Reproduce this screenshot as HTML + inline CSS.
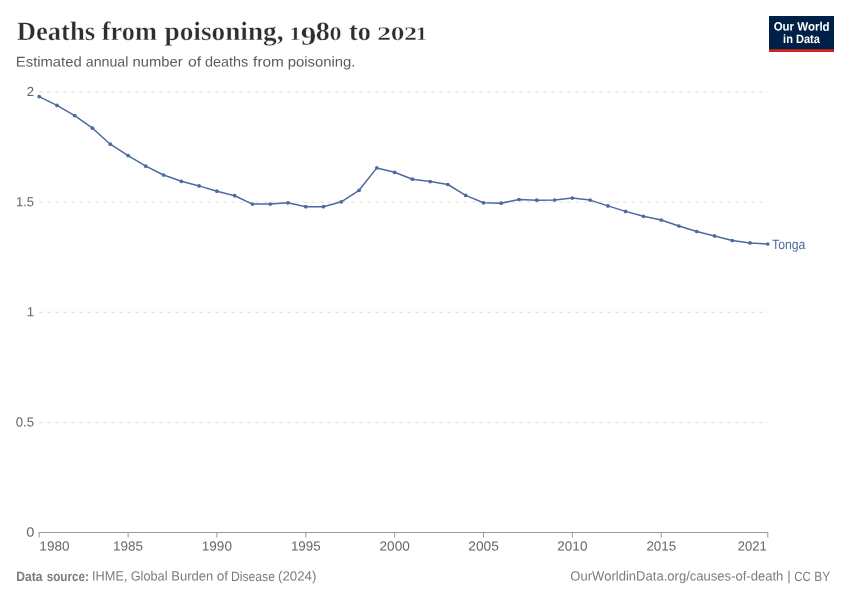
<!DOCTYPE html>
<html lang="en"><head><meta charset="utf-8"><title>Deaths from poisoning, 1980 to 2021</title>
<style>
html,body{margin:0;padding:0;background:#fff;}
svg{display:block;text-rendering:geometricPrecision;}
text.n{font-family:"Liberation Sans",sans-serif;}
text.s{font-family:"Liberation Serif",serif;stroke:#fff;stroke-width:.35px;}
.grid line{stroke:#ddd;stroke-width:1;stroke-dasharray:4,4;}
.ticks line{stroke:#999;stroke-width:1;}
</style></head><body>
<svg width="850" height="600" viewBox="0 0 850 600">
<rect width="850" height="600" fill="#fff"/>
<rect x="769" y="16" width="65" height="36" fill="#002147"/><rect x="769" y="49.2" width="65" height="2.8" fill="#ce261e"/>
<g class="grid"><line x1="39.2" x2="768" y1="92.0" y2="92.0"/><line x1="39.2" x2="768" y1="202.1" y2="202.1"/><line x1="39.2" x2="768" y1="312.25" y2="312.25"/><line x1="39.2" x2="768" y1="422.4" y2="422.4"/></g>
<line x1="38.7" x2="768.3" y1="532.5" y2="532.5" stroke="#999" stroke-width="1"/>
<g class="ticks"><line x1="39.2" x2="39.2" y1="532.5" y2="537.5"/><line x1="128.1" x2="128.1" y1="532.5" y2="537.5"/><line x1="216.9" x2="216.9" y1="532.5" y2="537.5"/><line x1="305.8" x2="305.8" y1="532.5" y2="537.5"/><line x1="394.6" x2="394.6" y1="532.5" y2="537.5"/><line x1="483.5" x2="483.5" y1="532.5" y2="537.5"/><line x1="572.3" x2="572.3" y1="532.5" y2="537.5"/><line x1="661.2" x2="661.2" y1="532.5" y2="537.5"/><line x1="767.8" x2="767.8" y1="532.5" y2="537.5"/></g>
<polyline points="39.2,96.6 57.0,105.4 74.7,115.6 92.5,128.2 110.3,144.2 128.1,155.6 145.8,166.2 163.6,175.0 181.4,181.3 199.1,185.9 216.9,191.2 234.7,195.7 252.4,204.1 270.2,204.1 288.0,202.8 305.8,206.7 323.5,206.7 341.3,201.8 359.1,190.3 376.8,167.9 394.6,172.3 412.4,179.2 430.2,181.6 447.9,184.5 465.7,195.4 483.5,202.8 501.2,203.2 519.0,199.5 536.8,200.2 554.6,200.0 572.3,198.1 590.1,200.1 607.9,205.9 625.6,211.4 643.4,216.3 661.2,220.0 678.9,226.0 696.7,231.5 714.5,235.9 732.3,240.5 750.0,242.9 767.8,244.0" fill="none" stroke="#4c6a9c" stroke-width="1.5" stroke-linejoin="round" stroke-linecap="round"/>
<g fill="#4c6a9c"><circle cx="39.2" cy="96.6" r="1.85"/><circle cx="57.0" cy="105.4" r="1.85"/><circle cx="74.7" cy="115.6" r="1.85"/><circle cx="92.5" cy="128.2" r="1.85"/><circle cx="110.3" cy="144.2" r="1.85"/><circle cx="128.1" cy="155.6" r="1.85"/><circle cx="145.8" cy="166.2" r="1.85"/><circle cx="163.6" cy="175.0" r="1.85"/><circle cx="181.4" cy="181.3" r="1.85"/><circle cx="199.1" cy="185.9" r="1.85"/><circle cx="216.9" cy="191.2" r="1.85"/><circle cx="234.7" cy="195.7" r="1.85"/><circle cx="252.4" cy="204.1" r="1.85"/><circle cx="270.2" cy="204.1" r="1.85"/><circle cx="288.0" cy="202.8" r="1.85"/><circle cx="305.8" cy="206.7" r="1.85"/><circle cx="323.5" cy="206.7" r="1.85"/><circle cx="341.3" cy="201.8" r="1.85"/><circle cx="359.1" cy="190.3" r="1.85"/><circle cx="376.8" cy="167.9" r="1.85"/><circle cx="394.6" cy="172.3" r="1.85"/><circle cx="412.4" cy="179.2" r="1.85"/><circle cx="430.2" cy="181.6" r="1.85"/><circle cx="447.9" cy="184.5" r="1.85"/><circle cx="465.7" cy="195.4" r="1.85"/><circle cx="483.5" cy="202.8" r="1.85"/><circle cx="501.2" cy="203.2" r="1.85"/><circle cx="519.0" cy="199.5" r="1.85"/><circle cx="536.8" cy="200.2" r="1.85"/><circle cx="554.6" cy="200.0" r="1.85"/><circle cx="572.3" cy="198.1" r="1.85"/><circle cx="590.1" cy="200.1" r="1.85"/><circle cx="607.9" cy="205.9" r="1.85"/><circle cx="625.6" cy="211.4" r="1.85"/><circle cx="643.4" cy="216.3" r="1.85"/><circle cx="661.2" cy="220.0" r="1.85"/><circle cx="678.9" cy="226.0" r="1.85"/><circle cx="696.7" cy="231.5" r="1.85"/><circle cx="714.5" cy="235.9" r="1.85"/><circle cx="732.3" cy="240.5" r="1.85"/><circle cx="750.0" cy="242.9" r="1.85"/><circle cx="767.8" cy="244.0" r="1.85"/></g>
<text transform="translate(16.68,39.90) rotate(.03) scale(1.0047,1)" font-size="26.5" fill="#2e2e2e" font-weight="bold" class="s">Deaths</text>
<text transform="translate(101.80,39.90) rotate(.03) scale(0.9945,1)" font-size="26.5" fill="#2e2e2e" font-weight="bold" class="s">from</text>
<text transform="translate(164.50,39.90) rotate(.03) scale(1.0296,1)" font-size="26.5" fill="#2e2e2e" font-weight="bold" class="s">poisoning,</text>
<text transform="translate(289.53,39.90) rotate(.03) scale(1.1684,1)" font-size="19.4" fill="#2e2e2e" font-weight="bold" class="s">1</text><text transform="translate(300.71,44.80) rotate(.03) scale(1.1742,1)" font-size="26.5" fill="#2e2e2e" font-weight="bold" class="s">9</text><text transform="translate(315.82,39.90) rotate(.03) scale(1.0609,1)" font-size="26.5" fill="#2e2e2e" font-weight="bold" class="s">8</text><text transform="translate(329.54,39.90) rotate(.03) scale(1.2489,1)" font-size="19.4" fill="#2e2e2e" font-weight="bold" class="s">0</text>
<text transform="translate(348.89,39.90) rotate(.03) scale(0.9936,1)" font-size="26.5" fill="#2e2e2e" font-weight="bold" class="s">to</text>
<text transform="translate(377.01,39.90) rotate(.03) scale(1.4610,1)" font-size="19.4" fill="#2e2e2e" font-weight="bold" class="s">2</text><text transform="translate(390.64,39.90) rotate(.03) scale(1.4138,1)" font-size="19.4" fill="#2e2e2e" font-weight="bold" class="s">0</text><text transform="translate(403.99,39.90) rotate(.03) scale(1.3432,1)" font-size="19.4" fill="#2e2e2e" font-weight="bold" class="s">2</text><text transform="translate(415.83,39.90) rotate(.03) scale(1.1684,1)" font-size="19.4" fill="#2e2e2e" font-weight="bold" class="s">1</text>
<text transform="translate(15.84,66.40) rotate(.03) scale(1.0510,1)" font-size="14.1" fill="#5b5b5b" class="n">Estimated</text>
<text transform="translate(85.76,66.40) rotate(.03) scale(1.0080,1)" font-size="14.1" fill="#5b5b5b" class="n">annual</text>
<text transform="translate(132.58,66.40) rotate(.03) scale(1.0479,1)" font-size="14.1" fill="#5b5b5b" class="n">number</text>
<text transform="translate(188.01,66.40) rotate(.03) scale(1.1173,1)" font-size="14.1" fill="#5b5b5b" class="n">of</text>
<text transform="translate(204.95,66.40) rotate(.03) scale(1.0228,1)" font-size="14.1" fill="#5b5b5b" class="n">deaths</text>
<text transform="translate(253.10,66.40) rotate(.03) scale(1.0921,1)" font-size="14.1" fill="#5b5b5b" class="n">from</text>
<text transform="translate(287.67,66.40) rotate(.03) scale(1.0543,1)" font-size="14.1" fill="#5b5b5b" class="n">poisoning.</text>
<text transform="translate(773.64,30.60) rotate(.03) scale(0.9502,1)" font-size="12.1" fill="#fff" font-weight="bold" class="n">Our World</text>
<text transform="translate(783.11,42.50) rotate(.03) scale(0.9102,1)" font-size="12.1" fill="#fff" font-weight="bold" class="n">in Data</text>
<text transform="translate(26.69,96.10) rotate(.03) scale(1.0000,1)" font-size="13.2" fill="#666" class="n">2</text>
<text transform="translate(15.99,206.20) rotate(.03) scale(0.9829,1)" font-size="13.2" fill="#666" class="n">1.5</text>
<text transform="translate(26.69,316.15) rotate(.03) scale(1.0000,1)" font-size="13.2" fill="#666" class="n">1</text>
<text transform="translate(15.69,426.50) rotate(.03) scale(0.9999,1)" font-size="13.2" fill="#666" class="n">0.5</text>
<text transform="translate(26.34,536.40) rotate(.03) scale(1.1061,1)" font-size="13.2" fill="#666" class="n">0</text>
<text transform="translate(39.35,550.50) rotate(.03) scale(1.0280,1)" font-size="13.2" fill="#666" class="n">1980</text>
<text transform="translate(113.11,550.50) rotate(.03) scale(1.0213,1)" font-size="13.2" fill="#666" class="n">1985</text>
<text transform="translate(201.76,550.50) rotate(.03) scale(1.0280,1)" font-size="13.2" fill="#666" class="n">1990</text>
<text transform="translate(290.92,550.50) rotate(.03) scale(1.0141,1)" font-size="13.2" fill="#666" class="n">1995</text>
<text transform="translate(379.47,550.50) rotate(.03) scale(1.0346,1)" font-size="13.2" fill="#666" class="n">2000</text>
<text transform="translate(468.32,550.50) rotate(.03) scale(1.0421,1)" font-size="13.2" fill="#666" class="n">2005</text>
<text transform="translate(557.29,550.50) rotate(.03) scale(1.0275,1)" font-size="13.2" fill="#666" class="n">2010</text>
<text transform="translate(646.40,550.50) rotate(.03) scale(1.0173,1)" font-size="13.2" fill="#666" class="n">2015</text>
<text transform="translate(737.69,550.50) rotate(.03) scale(0.9890,1)" font-size="13.2" fill="#666" class="n">2021</text>
<text transform="translate(772.11,248.50) rotate(.03) scale(0.9057,1)" font-size="13.5" fill="#4c6a9c" class="n">Tonga</text>
<text transform="translate(16.24,580.50) rotate(.03) scale(0.9152,1)" font-size="13.3" fill="#7c7c7c" font-weight="bold" class="n">Data</text>
<text transform="translate(46.63,580.50) rotate(.03) scale(0.8791,1)" font-size="13.3" fill="#7c7c7c" font-weight="bold" class="n">source:</text>
<text transform="translate(92.00,580.50) rotate(.03) scale(0.9595,1)" font-size="13.3" fill="#7c7c7c" class="n">IHME,</text>
<text transform="translate(130.70,580.50) rotate(.03) scale(0.9582,1)" font-size="13.3" fill="#7c7c7c" class="n">Global</text>
<text transform="translate(171.28,580.50) rotate(.03) scale(0.9781,1)" font-size="13.3" fill="#7c7c7c" class="n">Burden</text>
<text transform="translate(216.77,580.50) rotate(.03) scale(1.0259,1)" font-size="13.3" fill="#7c7c7c" class="n">of</text>
<text transform="translate(231.05,580.50) rotate(.03) scale(0.9124,1)" font-size="13.3" fill="#7c7c7c" class="n">Disease</text>
<text transform="translate(277.98,580.50) rotate(.03) scale(0.9991,1)" font-size="13.3" fill="#7c7c7c" class="n">(2024)</text>
<text transform="translate(570.29,580.50) rotate(.03) scale(0.9818,1)" font-size="13.3" fill="#7c7c7c" class="n">OurWorldinData.org/causes-of-death</text>
<text transform="translate(787.24,580.50) rotate(.03) scale(1.0000,1)" font-size="13.3" fill="#7c7c7c" class="n">|</text>
<text transform="translate(794.37,580.50) rotate(.03) scale(0.8496,1)" font-size="13.3" fill="#7c7c7c" class="n">CC</text>
<text transform="translate(814.37,580.50) rotate(.03) scale(0.8937,1)" font-size="13.3" fill="#7c7c7c" class="n">BY</text>
</svg>
</body></html>
